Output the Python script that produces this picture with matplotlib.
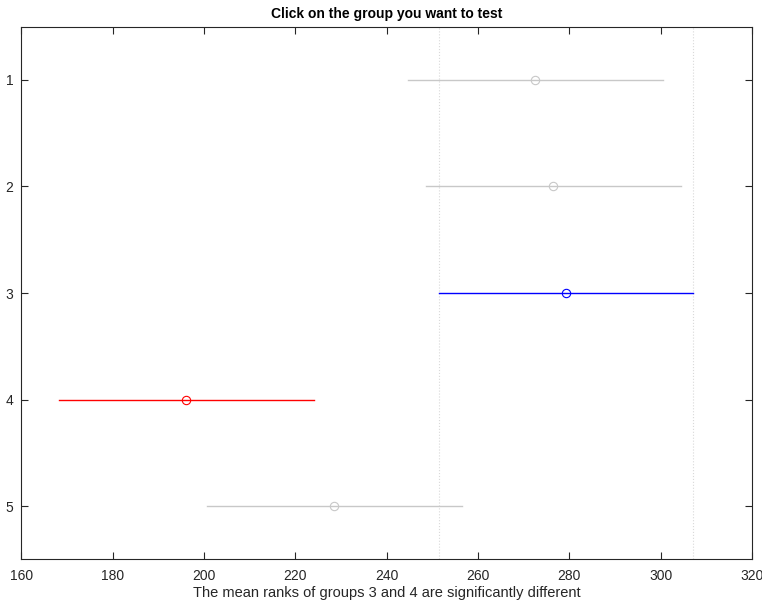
import matplotlib
matplotlib.use('Agg')
import matplotlib.pyplot as plt

# datos (multcompare, rangos medios)
groups = [1, 2, 3, 4, 5]
centers = [272.5, 276.5, 279.2, 196.1, 228.4]
lower = [244.7, 248.7, 251.4, 168.2, 200.7]
upper = [300.6, 304.5, 307.1, 224.0, 256.5]
colors = ['#c8c8c8', '#c8c8c8', 'blue', 'red', '#c8c8c8']
xticks = [160, 180, 200, 220, 240, 260, 280, 300, 320]

plt.rcParams['font.family'] = ['Liberation Sans', 'DejaVu Sans']

fig = plt.figure(figsize=(7.62, 6.05), dpi=100)
ax = fig.add_axes([0.0282, 0.0755, 0.9587, 0.8804])

# limites del grupo seleccionado
sel = 2
ax.axvline(lower[sel], color='#d9d9d9', linestyle=':', linewidth=0.8)
ax.axvline(upper[sel], color='#d9d9d9', linestyle=':', linewidth=0.8)

for g, c, lo, hi, col in zip(groups, centers, lower, upper, colors):
    ax.plot([lo, hi], [g, g], color=col, linewidth=1)
    ax.plot(c, g, 'o', mfc='none', mec=col, markersize=6, markeredgewidth=0.8)

ax.set_xlim(160, 320)
ax.set_ylim(5.5, 0.5)
ax.set_xticks(xticks)
ax.set_yticks(groups)
ax.tick_params(direction='in', top=True, right=True, labelsize=10, length=5,
               width=0.8, colors='#262626', pad=7)
ax.tick_params(axis='y', pad=6)
for s in ax.spines.values():
    s.set_color('#262626')
    s.set_linewidth(0.8)

ax.set_title('Click on the group you want to test', fontsize=10, fontweight='bold', pad=6)
ax.set_xlabel('The mean ranks of groups 3 and 4 are significantly different', fontsize=10.5, labelpad=2, color='#262626')

plt.savefig('out.png', dpi=100)
